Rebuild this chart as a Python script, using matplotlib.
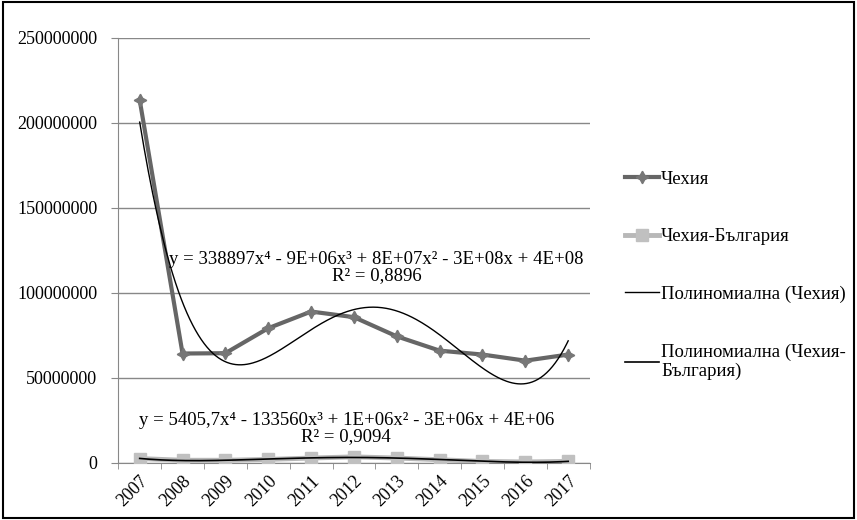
import numpy as np
import matplotlib
matplotlib.use("Agg")
import matplotlib.pyplot as plt

plt.rcParams['font.family'] = ['Liberation Serif', 'DejaVu Serif']

years = ['2007', '2008', '2009', '2010', '2011', '2012', '2013', '2014', '2015', '2016', '2017']
czech = [213.5e6, 64.3e6, 64.5e6, 79.2e6, 89.0e6, 85.7e6, 74.4e6, 66.0e6, 63.7e6, 60.1e6, 63.7e6]
czech_bg = [2.5e6, 1.5e6, 1.5e6, 2.0e6, 2.8e6, 3.5e6, 2.8e6, 1.8e6, 0.8e6, 0.5e6, 0.8e6]

eq_czech = "y = 338897x\u2074 - 9E+06x\u00b3 + 8E+07x\u00b2 - 3E+08x + 4E+08\nR\u00b2 = 0,8896"
eq_bg = "y = 5405,7x\u2074 - 133560x\u00b3 + 1E+06x\u00b2 - 3E+06x + 4E+06\nR\u00b2 = 0,9094"

x = np.arange(1, len(years) + 1)

fig = plt.figure(figsize=(8.57, 5.2), dpi=100)
ax = fig.add_axes([0.138, 0.110, 0.550, 0.817])

ax.plot(x, czech, color='#666666', lw=3, marker=(4, 1, 0), ms=9,
        mfc='#777777', mec='#777777', label='Чехия', zorder=3)
ax.plot(x, czech_bg, color='#b8b8b8', lw=3.5, marker='s', ms=8,
        mfc='#c0c0c0', mec='#c0c0c0', label='Чехия-България', zorder=3)

xs = np.linspace(1, 11, 300)
p1 = np.polyfit(x, czech, 4)
p2 = np.polyfit(x, czech_bg, 4)
ax.plot(xs, np.polyval(p1, xs), color='black', lw=1, label='Полиномиална (Чехия)', zorder=4)
ax.plot(xs, np.polyval(p2, xs), color='black', lw=1.2,
        label='Полиномиална (Чехия-\nБългария)', zorder=4)

ax.text(6.53, 115e6, eq_czech, ha='center', va='center', fontsize=13.5, linespacing=0.95)
ax.text(5.82, 20e6, eq_bg, ha='center', va='center', fontsize=13.5, linespacing=0.95)

ax.set_xlim(0.5, 11.5)
ax.set_ylim(0, 250e6)
ax.set_yticks(np.arange(0, 250e6 + 1, 50e6))
ax.set_yticklabels([f"{int(v)}" for v in np.arange(0, 250e6 + 1, 50e6)], fontsize=13)
ax.set_xticks(x)
ax.set_xticklabels(years, rotation=45, ha='right', rotation_mode='anchor', fontsize=13)
ax.set_xticks(np.arange(0.5, 12, 1), minor=True)
ax.tick_params(axis='x', which='major', length=0, pad=7)
ax.tick_params(axis='x', which='minor', length=4, color='#888888')
ax.tick_params(axis='y', length=5, color='#888888', pad=10)
ax.grid(axis='y', color='#888888', lw=1)
ax.set_axisbelow(True)
for s in ['top', 'right']:
    ax.spines[s].set_visible(False)
for s in ['left', 'bottom']:
    ax.spines[s].set_color('#888888')

fig.legend(loc='center left', bbox_to_anchor=(0.71, 0.47), frameon=False,
           fontsize=13.5, handlelength=1.8, handletextpad=0.1, labelspacing=2.15)

fig.patches.append(plt.Rectangle((0.003, 0.004), 0.994, 0.992, transform=fig.transFigure,
                                 fill=False, edgecolor='black', lw=1.5))

fig.savefig('out.png', dpi=100)
